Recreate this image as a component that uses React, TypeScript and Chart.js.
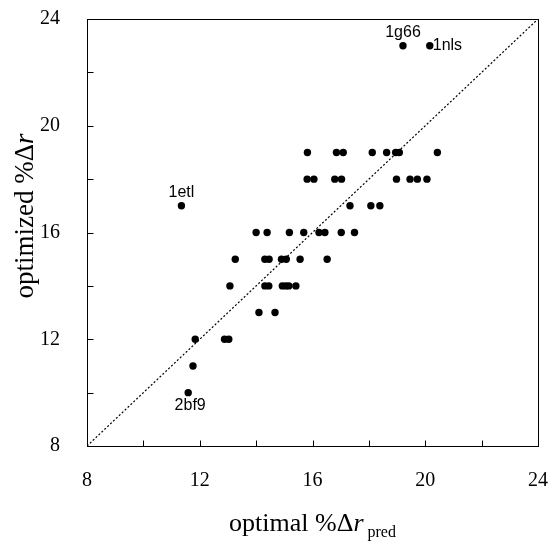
import React, { useEffect, useRef } from 'react';
import { Chart, registerables } from 'chart.js';

Chart.register(...registerables);

// optimal %Δr_pred (x) and optimized %Δr (y) for each structure
const xOptimal = [
  19.21, 20.16,
  15.82, 16.85, 17.09, 18.12, 18.63, 18.95, 19.08, 20.43,
  15.81, 16.05, 16.79, 17.03, 18.98, 19.46, 19.72, 20.06,
  11.35, 17.33, 18.07, 18.39,
  14.0, 14.39, 15.18, 15.69, 16.23, 16.44, 17.02, 17.49,
  13.26, 14.31, 14.46, 14.9, 15.07, 15.56, 16.52,
  13.07, 14.31, 14.45, 14.93, 15.05, 15.16, 15.41,
  14.1, 14.67,
  11.84, 12.88, 13.03,
  11.76,
  11.59,
];
const yOptimized = [
  23, 23,
  19, 19, 19, 19, 19, 19, 19, 19,
  18, 18, 18, 18, 18, 18, 18, 18,
  17, 17, 17, 17,
  16, 16, 16, 16, 16, 16, 16, 16,
  15, 15, 15, 15, 15, 15, 15,
  14, 14, 14, 14, 14, 14, 14,
  13, 13,
  12, 12, 12,
  11,
  10,
];

// labelled outliers
const labelNames = ['1g66', '1nls', '1etl', '2bf9'];
const labelX = [19.21, 20.16, 11.35, 11.59];
const labelY = [23, 23, 17, 10];
const labelSide = ['above', 'right', 'above', 'below'];

const axisMin = 8;
const axisMax = 24;
const majorStep = 4;
const minorTicks = [10, 12, 14, 16, 18, 20, 22];
const identityLine = [axisMin, axisMax];

const SERIF = "'Liberation Serif', 'Times New Roman', serif";
const SANS = "'Liberation Sans', Arial, sans-serif";

const decorPlugin = {
  id: 'decor',
  afterDraw(chart: any) {
    const ctx = chart.ctx as CanvasRenderingContext2D;
    const { left, right, top, bottom } = chart.chartArea;
    const xs = chart.scales.x;
    const ys = chart.scales.y;
    ctx.save();
    ctx.strokeStyle = '#000';
    ctx.lineWidth = 1;
    ctx.strokeRect(Math.round(left) + 0.5, Math.round(top) + 0.5, Math.round(right - left), Math.round(bottom - top));
    const tl = 6;
    ctx.beginPath();
    for (const v of minorTicks) {
      const px = Math.round(xs.getPixelForValue(v)) + 0.5;
      ctx.moveTo(px, Math.round(bottom) + 0.5);
      ctx.lineTo(px, Math.round(bottom) + 0.5 - tl);
      const py = Math.round(ys.getPixelForValue(v)) + 0.5;
      ctx.moveTo(Math.round(left) + 0.5, py);
      ctx.lineTo(Math.round(left) + 0.5 + tl, py);
    }
    ctx.stroke();

    // tick labels
    ctx.fillStyle = '#000';
    ctx.font = `20px ${SERIF}`;
    for (let v = axisMin; v <= axisMax; v += majorStep) {
      ctx.textAlign = 'center';
      ctx.textBaseline = 'middle';
      ctx.fillText(String(v), xs.getPixelForValue(v), 481);
      ctx.textAlign = 'right';
      ctx.fillText(String(v), 60, ys.getPixelForValue(v));
    }

    // point labels
    ctx.font = `16px ${SANS}`;
    labelNames.forEach((name, i) => {
      const px = xs.getPixelForValue(labelX[i]);
      const py = ys.getPixelForValue(labelY[i]);
      const side = labelSide[i];
      if (side === 'above') {
        ctx.textAlign = 'center';
        ctx.textBaseline = 'alphabetic';
        ctx.fillText(name, px, py - 9);
      } else if (side === 'right') {
        ctx.textAlign = 'left';
        ctx.textBaseline = 'middle';
        ctx.fillText(name, px + 3, py);
      } else {
        ctx.textAlign = 'center';
        ctx.textBaseline = 'top';
        ctx.fillText(name, px + 2, py + 5);
      }
    });

    // axis titles
    const drawRich = (parts: { t: string; f: string; dy: number }[], cx: number, cy: number, rot: number) => {
      ctx.save();
      ctx.translate(cx, cy);
      ctx.rotate(rot);
      let total = 0;
      for (const p of parts) {
        ctx.font = p.f;
        total += ctx.measureText(p.t).width;
      }
      let x = -total / 2;
      ctx.textAlign = 'left';
      ctx.textBaseline = 'alphabetic';
      for (const p of parts) {
        ctx.font = p.f;
        ctx.fillText(p.t, x, p.dy);
        x += ctx.measureText(p.t).width;
      }
      ctx.restore();
    };
    const cxPlot = (left + right) / 2;
    drawRich(
      [
        { t: 'optimal %Δ', f: `26px ${SERIF}`, dy: 0 },
        { t: 'r', f: `italic 26px ${SERIF}`, dy: 0 },
        { t: ' pred', f: `16px ${SERIF}`, dy: 6 },
      ],
      cxPlot,
      531,
      0
    );
    drawRich(
      [
        { t: 'optimized %Δ', f: `27px ${SERIF}`, dy: 0 },
        { t: 'r', f: `italic 27px ${SERIF}`, dy: 0 },
      ],
      33,
      216,
      -Math.PI / 2
    );
    ctx.restore();
  },
};

export default function App() {
  const ref = useRef<HTMLCanvasElement | null>(null);
  useEffect(() => {
    if (!ref.current) return;
    const points = xOptimal.map((x, i) => ({ x, y: yOptimized[i] }));
    const diag = identityLine.map((v) => ({ x: v, y: v }));
    const chart = new Chart(ref.current, {
      type: 'scatter',
      data: {
        datasets: [
          {
            data: points,
            backgroundColor: '#000',
            borderWidth: 0,
            pointRadius: 3.7,
            pointHoverRadius: 3.7,
          },
          {
            type: 'line',
            data: diag,
            borderColor: '#000',
            borderWidth: 1.2,
            borderDash: [2, 2],
            pointRadius: 0,
            fill: false,
            showLine: true,
          } as any,
        ],
      },
      options: {
        responsive: false,
        animation: false,
        layout: { padding: { top: 19, right: 14, left: 0, bottom: 0 } },
        plugins: { legend: { display: false }, tooltip: { enabled: false } },
        scales: {
          x: {
            type: 'linear',
            min: axisMin,
            max: axisMax,
            grid: { display: false, drawTicks: false },
            border: { display: false },
            ticks: { stepSize: majorStep, display: false },
            afterFit: (s: any) => {
              s.height = 96;
            },
          },
          y: {
            type: 'linear',
            min: axisMin,
            max: axisMax,
            grid: { display: false, drawTicks: false },
            border: { display: false },
            ticks: { stepSize: majorStep, display: false },
            afterFit: (s: any) => {
              s.width = 87;
            },
          },
        },
      },
      plugins: [decorPlugin],
    });
    return () => chart.destroy();
  }, []);
  return (
    <div style={{ position: 'fixed', left: 0, top: 0, width: 552, height: 542, background: '#fff' }}>
      <canvas ref={ref} width={552} height={542} style={{ display: 'block' }} />
    </div>
  );
}
